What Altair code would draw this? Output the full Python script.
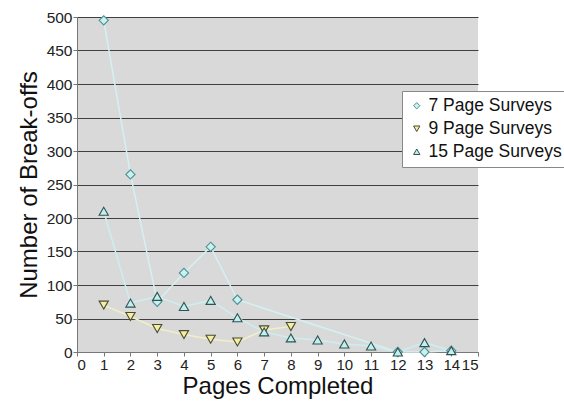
import altair as alt
import pandas as pd

# Break-offs by the page at which respondents stopped, per survey length
series_names = ["7 Page Surveys", "9 Page Surveys", "15 Page Surveys"]

pages_7 = [1, 2, 3, 4, 5, 6, 12, 13, 14]
breakoffs_7 = [495, 265, 75, 118, 157, 78, 0, 0, 2]

pages_9 = [1, 2, 3, 4, 5, 6, 7, 8]
breakoffs_9 = [70, 53, 35, 26, 19, 15, 33, 38]

pages_15 = [1, 2, 3, 4, 5, 6, 7, 8, 9, 10, 11, 12, 13, 14]
breakoffs_15 = [210, 73, 83, 68, 77, 51, 30, 21, 18, 12, 9, 0, 14, 2]

x_ticks = list(range(0, 16))
y_ticks = list(range(0, 501, 50))

rows = []
for name, pages, vals in [
    (series_names[0], pages_7, breakoffs_7),
    (series_names[1], pages_9, breakoffs_9),
    (series_names[2], pages_15, breakoffs_15),
]:
    for p, v in zip(pages, vals):
        rows.append({"series": name, "page": p, "breakoffs": v})
df = pd.DataFrame(rows)

line_colors = ["#d4f1f2", "#f3efc4", "#cdeef0"]
fill_colors = ["#c9f1f1", "#f2f0a6", "#c3efef"]
stroke_colors = ["#4f8f92", "#4d4a2a", "#2f5353"]
shapes = ["diamond", "triangle-down", "triangle-up"]

x_enc = alt.X(
    "page:Q",
    title="Pages Completed",
    scale=alt.Scale(domain=[0, 15], nice=False),
    axis=alt.Axis(values=x_ticks, format="d", grid=False, tickSize=4,
                  labelPadding=1, titlePadding=2, labelFontSize=15),
)
y_enc = alt.Y(
    "breakoffs:Q",
    title="Number of Break-offs",
    scale=alt.Scale(domain=[0, 500], nice=False),
    axis=alt.Axis(values=y_ticks, grid=True, tickSize=4, labelPadding=1,
                  titlePadding=5, labelFontSize=15.5),
)

# one pale connecting line per survey length
line_layers = [
    alt.Chart(df)
    .transform_filter(alt.datum.series == name)
    .mark_line(strokeWidth=1.5, color=col)
    .encode(x=x_enc, y=y_enc)
    for name, col in zip(series_names, line_colors)
]

points = alt.Chart(df).mark_point(filled=True, size=85, strokeWidth=1.1, opacity=1).encode(
    x=x_enc,
    y=y_enc,
    fill=alt.Fill("series:N", title=None,
                  scale=alt.Scale(domain=series_names, range=fill_colors)),
    stroke=alt.Stroke("series:N", title=None,
                      scale=alt.Scale(domain=series_names, range=stroke_colors)),
    shape=alt.Shape("series:N", title=None,
                    scale=alt.Scale(domain=series_names, range=shapes)),
)

chart = (
    alt.layer(*line_layers, points)
    .properties(
        width=401,
        height=335,
        autosize=alt.AutoSizeParams(type="none"),
        padding={"left": 77, "top": 17, "right": 86, "bottom": 54},
        background="white",
    )
    .configure_view(fill="#d9d9d9", stroke=None)
    .configure_axis(
        labelFont="Liberation Sans",
        labelColor="#222222",
        titleFont="Liberation Sans",
        titleFontSize=24,
        titleFontWeight="normal",
        titleColor="#111111",
        domainColor="#777777",
        tickColor="#777777",
        gridColor="#404040",
        gridWidth=1.2,
    )
    .configure_legend(
        orient="none",
        legendX=325,
        legendY=74,
        fillColor="white",
        strokeColor="#888888",
        padding=6,
        labelFont="Liberation Sans",
        labelFontSize=17.5,
        labelColor="#111111",
        symbolSize=40,
        symbolStrokeWidth=1,
        rowPadding=4,
        labelOffset=3,
    )
)

chart.save("out.html", embed_options={"renderer": "svg", "actions": False})
